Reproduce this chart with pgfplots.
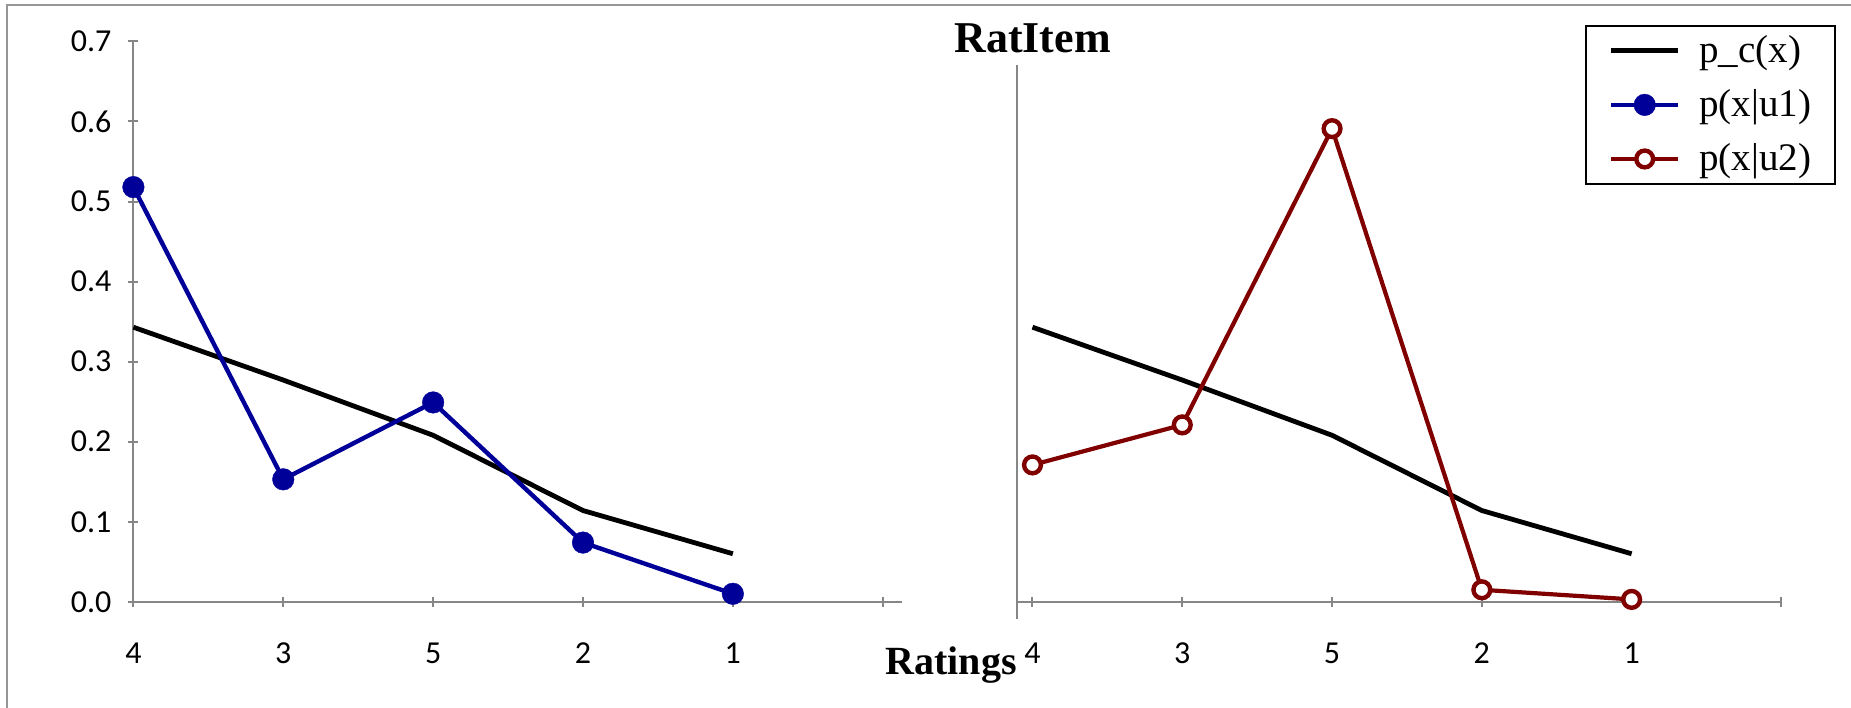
\documentclass[border=0pt]{standalone}
\usepackage{pgfplots}
\pgfplotsset{compat=1.18}
\usepackage{fontspec}
\setmainfont{Liberation Serif}
\newfontfamily\carlito{Carlito}
\definecolor{axgray}{RGB}{134,134,134}
\definecolor{framegray}{RGB}{150,150,150}
\definecolor{ublue}{RGB}{0,0,153}
\definecolor{ured}{RGB}{128,0,0}
\begin{document}
\begin{tikzpicture}
\useasboundingbox (-66.7pt,-52.6pt) rectangle (858.8pt,300.9pt);
\draw[framegray, line width=1pt] (-63.2pt,-60pt) -- (-63.2pt,298.4pt) -- (870pt,298.4pt);
\pgfplotsset{
  common/.style={
    scale only axis, clip=false,
    ymin=0, ymax=0.7, height=280.2pt,
    tick style={draw=axgray, line width=1pt},
    tick align=outside, major tick length=5pt,
    xtick={0,1,2,3,4,5}, xticklabels={4,3,5,2,1,{}},
    ticklabel style={font=\carlito\fontsize{16}{19}\selectfont, text=black},
    xticklabel style={yshift=-14.5pt},
    yticklabel style={xshift=-5pt},
  },
  nolinearrows/.style={
    axis line style={draw=axgray, line width=1pt, -},
    every outer x axis line/.append style={-},
    every outer y axis line/.append style={-},
    every inner x axis line/.append style={-},
    every inner y axis line/.append style={-},
    x axis line style={-}, y axis line style={-},
  },
  pc/.style={black, line width=2.4pt, mark=none},
  u1/.style={ublue, line width=2.2pt, mark=*, mark size=5.4pt, mark options={fill=ublue, draw=ublue, line width=0.2pt}},
  u2/.style={ured, line width=2.1pt, mark=*, mark size=4.2pt, mark options={fill=white, draw=ured, line width=2.2pt}},
}
\begin{axis}[common, at={(0pt,0pt)}, anchor=south west, width=384.4pt,
  xmin=0, xmax=5.13,
  axis x line=bottom, axis y line=left, nolinearrows,
  ytick={0,0.1,0.2,0.3,0.4,0.5,0.6,0.7},
  yticklabels={0.0,0.1,0.2,0.3,0.4,0.5,0.6,0.7}]
\addplot[pc] coordinates {(0,0.343) (1,0.277) (2,0.208) (3,0.114) (4,0.060)};
\addplot[u1] coordinates {(0,0.518) (1,0.153) (2,0.249) (3,0.074) (4,0.010)};
\end{axis}
\begin{axis}[common, at={(441.9pt,0pt)}, anchor=south west, width=382.1pt,
  xmin=-0.102, xmax=5.0,
  axis x line=bottom, axis y line=none, nolinearrows, ytick=\empty,
  legend style={at={(1.0717,1.0296)}, anchor=north east, draw=black, line width=1pt,
    font=\fontsize{19.5}{23}\selectfont, inner xsep=8pt, inner ysep=2pt,
    nodes={inner ysep=3pt, inner xsep=4pt}, row sep=6pt},
  legend cell align=left,
  legend image code/.code={\path (0pt,0pt) (42.5pt,0pt); \draw[mark repeat=2,mark phase=2,#1] plot coordinates {(3.5pt,0pt) (20.35pt,0pt) (37.2pt,0pt)};}]
\draw[axgray, line width=1pt] (axis cs:-0.102,-0.022) -- (axis cs:-0.102,0.670);
\addplot[pc] coordinates {(0,0.343) (1,0.277) (2,0.208) (3,0.114) (4,0.060)};
\addlegendentry{p\_c(x)}
\addlegendimage{u1}
\addlegendentry{p(x|u1)}
\addplot[u2] coordinates {(0,0.171) (1,0.221) (2,0.591) (3,0.015) (4,0.003)};
\addlegendentry{p(x|u2)}
\end{axis}
\node[anchor=base, font=\bfseries\fontsize{22}{26}\selectfont] at (449.6pt,274.4pt) {RatItem};
\node[anchor=base, font=\bfseries\fontsize{20}{24}\selectfont] at (408.9pt,-36.1pt) {Ratings};
\end{tikzpicture}
\end{document}
